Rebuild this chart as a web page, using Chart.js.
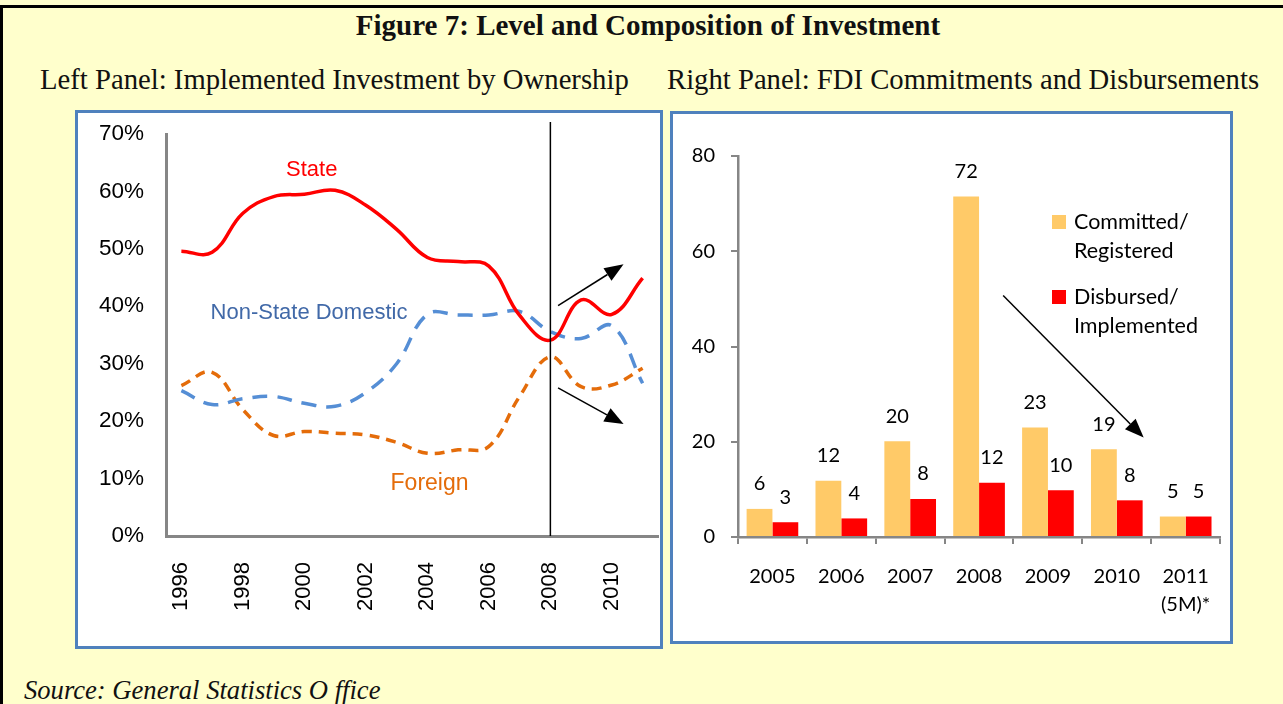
<!DOCTYPE html>
<html lang="en">
<head>
  <meta charset="UTF-8">
  <title>Figure 7: Level and Composition of Investment</title>
  <script src="https://cdn.jsdelivr.net/npm/chart.js"></script>
  <style>
    body { margin: 0; width: 1283px; height: 704px; background: #FFFFCC; position: relative; overflow: hidden; }
    .frame-top { position: absolute; left: 0; top: 5px; width: 1283px; height: 3px; background: #000; }
    .frame-left { position: absolute; left: 0; top: 5px; width: 3px; height: 699px; background: #000; }
    .txt { position: absolute; white-space: nowrap; color: #111; font-family: "Liberation Serif", serif; line-height: 1; }
    .panel { position: absolute; background: #fff; border: 3px solid #4F81BD; box-sizing: border-box; }
    canvas { position: absolute; }
  </style>
</head>
<body>
  <div class="frame-top"></div>
  <div class="frame-left"></div>

  <div class="txt" style="left:648px; top:11px; transform:translateX(-50%); font-size:29px; font-weight:bold;">Figure 7: Level and Composition of Investment</div>
  <div class="txt" style="left:40px; top:65px; font-size:28.7px;">Left Panel: Implemented Investment by Ownership</div>
  <div class="txt" style="left:667px; top:65px; font-size:28.7px;">Right Panel: FDI Commitments and Disbursements</div>
  <div class="txt" style="left:24px; top:677px; font-size:26.6px; font-style:italic;">Source: General Statistics O ffice</div>

  <div class="panel" style="left:75px; top:110px; width:588px; height:539px;"></div>
  <div class="panel" style="left:670px; top:111px; width:563px; height:533px;"></div>

  <canvas id="leftChart" width="581" height="532" style="left:78px; top:113px;"></canvas>
  <canvas id="rightChart" width="557" height="527" style="left:673px; top:114px;"></canvas>

  <script>
    // left panel: share of implemented investment (%)
    const years = ['1996', '1997', '1998', '1999', '2000', '2001', '2002', '2003',
                   '2004', '2005', '2006', '2007', '2008', '2009', '2010', '2011'];
    const stateShare    = [49.6, 49.4, 56.2, 59.1, 59.5, 60.2, 57.6, 53.4, 48.5, 47.8, 47.0, 38.4, 34.1, 41.1, 38.6, 44.9];
    const nonStateShare = [25.3, 22.9, 23.9, 24.3, 23.1, 22.6, 25.0, 30.0, 38.6, 38.5, 38.5, 39.1, 35.6, 34.4, 36.6, 26.6];
    const foreignShare  = [26.2, 28.5, 22.0, 17.5, 18.2, 17.9, 17.6, 16.3, 14.4, 15.0, 15.6, 24.3, 31.2, 26.0, 26.3, 29.2];
    const percentTicks = [0, 10, 20, 30, 40, 50, 60, 70];

    // right panel: FDI, US$ billion
    const fdiYears = ['2005', '2006', '2007', '2008', '2009', '2010', ['2011', '(5M)*']];
    const committed = [5.9, 11.8, 20.1, 71.5, 23.0, 18.4, 4.3];
    const disbursed = [3.1, 3.9, 8.0, 11.4, 9.8, 7.7, 4.3];
    const committedLabels = ['6', '12', '20', '72', '23', '19', '5'];
    const disbursedLabels = ['3', '4', '8', '12', '10', '8', '5'];

    function drawArrow(ctx, x1, y1, x2, y2) {
      const ang = Math.atan2(y2 - y1, x2 - x1);
      const len = 19, half = 7.5;
      ctx.save();
      ctx.strokeStyle = '#000';
      ctx.fillStyle = '#000';
      ctx.lineWidth = 1.5;
      ctx.beginPath();
      ctx.moveTo(x1, y1);
      ctx.lineTo(x2 - len * Math.cos(ang), y2 - len * Math.sin(ang));
      ctx.stroke();
      ctx.beginPath();
      ctx.moveTo(x2, y2);
      ctx.lineTo(x2 - len * Math.cos(ang) + half * Math.sin(ang), y2 - len * Math.sin(ang) - half * Math.cos(ang));
      ctx.lineTo(x2 - len * Math.cos(ang) - half * Math.sin(ang), y2 - len * Math.sin(ang) + half * Math.cos(ang));
      ctx.closePath();
      ctx.fill();
      ctx.restore();
    }

    // no extra label padding, so the plot box lands where the figure has it
    function noPad(s) {
      s.paddingLeft = 0; s.paddingRight = 0; s.paddingTop = 0; s.paddingBottom = 0;
    }

    const leftNotes = {
      id: 'leftNotes',
      afterDatasetsDraw(chart) {
        const { ctx, chartArea, scales: { x, y } } = chart;
        // 2008 divider
        const x08 = x.getPixelForValue(12);
        ctx.save();
        ctx.strokeStyle = '#000';
        ctx.lineWidth = 1.5;
        ctx.beginPath();
        ctx.moveTo(x08, chartArea.top - 12);
        ctx.lineTo(x08, chartArea.bottom);
        ctx.stroke();

        ctx.font = '22px "Liberation Sans", Arial, sans-serif';
        ctx.textAlign = 'center';
        ctx.textBaseline = 'middle';
        ctx.fillStyle = '#FF0000';
        ctx.fillText('State', x.getPixelForValue(4.24), y.getPixelForValue(63.8));
        ctx.fillStyle = '#4169A8';
        ctx.fillText('Non-State Domestic', x.getPixelForValue(4.15), y.getPixelForValue(38.9));
        ctx.fillStyle = '#E46C0A';
        ctx.font = '23px "Liberation Sans", Arial, sans-serif';
        ctx.fillText('Foreign', x.getPixelForValue(8.07), y.getPixelForValue(9.2));
        ctx.restore();

        drawArrow(ctx, x.getPixelForValue(12.25), y.getPixelForValue(40.1), x.getPixelForValue(14.38), y.getPixelForValue(47.3));
        drawArrow(ctx, x.getPixelForValue(12.25), y.getPixelForValue(25.8), x.getPixelForValue(14.38), y.getPixelForValue(19.5));
      }
    };

    new Chart(document.getElementById('leftChart'), {
      type: 'line',
      data: {
        labels: years,
        datasets: [
          { label: 'State', data: stateShare, borderColor: '#FF0000', borderWidth: 3.5, tension: 0.4, pointRadius: 0 },
          { label: 'Non-State Domestic', data: nonStateShare, borderColor: '#558ED5', borderWidth: 3.5, borderDash: [15, 10], tension: 0.4, pointRadius: 0 },
          { label: 'Foreign', data: foreignShare, borderColor: '#E46C0A', borderWidth: 3.5, borderDash: [10, 7], tension: 0.4, pointRadius: 0 }
        ]
      },
      options: {
        responsive: false,
        animation: false,
        layout: { padding: { top: 21, right: 1, left: 0, bottom: 0 } },
        plugins: { legend: { display: false }, tooltip: { enabled: false } },
        scales: {
          x: {
            offset: true,
            grid: { display: false, drawTicks: false },
            border: { color: '#868686', width: 3 },
            ticks: {
              autoSkip: false, maxRotation: 90, minRotation: 90, padding: 26,
              color: '#000', font: { family: '"Liberation Sans", Arial, sans-serif', size: 22 },
              callback: (v, i) => (i % 2 === 0 ? years[i] : '')
            },
            afterFit: s => { s.height = 109; noPad(s); }
          },
          y: {
            min: 0, max: 70,
            afterBuildTicks: s => { s.ticks = percentTicks.map(v => ({ value: v })); },
            grid: { display: false, drawTicks: false },
            border: { color: '#868686', width: 3 },
            ticks: {
              padding: 22, color: '#000',
              font: { family: '"Liberation Sans", Arial, sans-serif', size: 22.5 },
              callback: v => v + '%'
            },
            afterFit: s => { s.width = 88; noPad(s); }
          }
        }
      },
      plugins: [leftNotes]
    });

    const barNotes = {
      id: 'barNotes',
      afterDatasetsDraw(chart) {
        const { ctx, scales: { x, y } } = chart;
        const labelSets = [committedLabels, disbursedLabels];
        ctx.save();
        ctx.font = '20px Lato, "Open Sans", sans-serif';
        ctx.fillStyle = '#000';
        ctx.textAlign = 'center';
        ctx.textBaseline = 'middle';
        labelSets.forEach((labels, d) => {
          chart.getDatasetMeta(d).data.forEach((bar, i) => {
            ctx.fillText(labels[i], bar.x, bar.y - 25);
          });
        });

        // legend
        const lx = 379, items = [
          { color: chart.data.datasets[0].backgroundColor, lines: chart.data.datasets[0].label, top: 101 },
          { color: chart.data.datasets[1].backgroundColor, lines: chart.data.datasets[1].label, top: 176 }
        ];
        ctx.font = '21.5px Lato, "Open Sans", sans-serif';
        ctx.textAlign = 'left';
        items.forEach(it => {
          ctx.fillStyle = it.color;
          ctx.fillRect(lx, it.top, 14, 14);
          ctx.fillStyle = '#000';
          it.lines.forEach((ln, k) => ctx.fillText(ln, lx + 22, it.top + 7 + k * 29.5));
        });
        ctx.restore();

        drawArrow(ctx, x.getPixelForValue(3.35), y.getPixelForValue(50.7), x.getPixelForValue(5.39), y.getPixelForValue(20.9));
      }
    };

    new Chart(document.getElementById('rightChart'), {
      type: 'bar',
      data: {
        labels: fdiYears,
        datasets: [
          { label: ['Committed/', 'Registered'], data: committed, backgroundColor: '#FFCA68', categoryPercentage: 0.75, barPercentage: 1.0 },
          { label: ['Disbursed/', 'Implemented'], data: disbursed, backgroundColor: '#FF0000', categoryPercentage: 0.75, barPercentage: 1.0 }
        ]
      },
      options: {
        responsive: false,
        animation: false,
        layout: { padding: { top: 42, right: 9, left: 0, bottom: 0 } },
        plugins: { legend: { display: false }, tooltip: { enabled: false } },
        scales: {
          x: {
            grid: { drawOnChartArea: false, tickLength: 7, color: '#868686', lineWidth: 2 },
            border: { color: '#868686', width: 2.5 },
            ticks: {
              padding: 19, color: '#000',
              font: { family: 'Lato, "Open Sans", sans-serif', size: 20, lineHeight: 1.4 }
            },
            afterFit: s => { s.height = 104; }
          },
          y: {
            min: 0, max: 80,
            ticks: { stepSize: 20, padding: 16, color: '#000', font: { family: 'Lato, "Open Sans", sans-serif', size: 20 } },
            grid: { drawOnChartArea: false, tickLength: 7, color: '#868686', lineWidth: 2 },
            border: { color: '#868686', width: 2.5 },
            afterFit: s => { s.width = 65; }
          }
        }
      },
      plugins: [barNotes]
    });
  </script>
</body>
</html>
